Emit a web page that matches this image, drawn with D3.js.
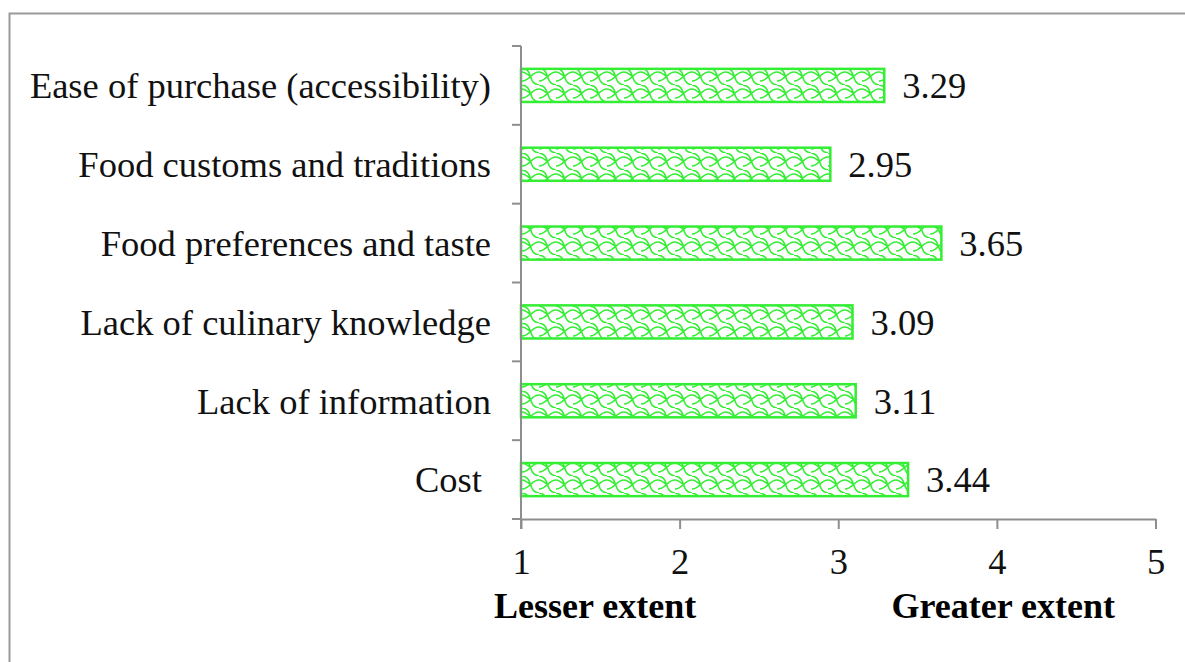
<!DOCTYPE html>
<html><head><meta charset="utf-8">
<script src="https://cdn.jsdelivr.net/npm/d3@7"></script>
<style>html,body{margin:0;padding:0;background:#fff;overflow:hidden}</style>
</head><body>
<svg id="c" width="1185" height="662"></svg>
<script>
const categories = ["Ease of purchase (accessibility)", "Food customs and traditions", "Food preferences and taste", "Lack of culinary knowledge", "Lack of information", "Cost "];
const values = [3.29, 2.95, 3.65, 3.09, 3.11, 3.44];
const valueLabels = ["3.29", "2.95", "3.65", "3.09", "3.11", "3.44"];
const xTicks = [1, 2, 3, 4, 5];
const endLabels = ["Lesser extent", "Greater extent"];

const svg = d3.select("#c");
const font = "'Liberation Serif','Times New Roman',serif";
const green = "#33ee33";
const axisCol = "#8e8e8e";
const fs = 36.5;

// outer frame
svg.append("rect").attr("x", 9.5).attr("y", 13.5).attr("width", 1300).attr("height", 800)
  .attr("fill", "none").attr("stroke", "#9a9a9a").attr("stroke-width", 2);

// pattern
const defs = svg.append("defs");
const pat = defs.append("pattern").attr("id", "shingle").attr("patternUnits", "userSpaceOnUse")
  .attr("width", 17).attr("height", 17).attr("x", 522).attr("y", 0);
pat.append("rect").attr("width", 17).attr("height", 17).attr("fill", "#fff");
pat.append("path")
  .attr("d", "M0,0 C6,1 7,4 8.5,8.5 C10,13 11,16 17,17 M8.5,8.5 C11,6 14,4 17,4 M-8.5,8.5 C-6,6 -3,4 0,4 M0,4 C3,4 5,6 8.5,8.5 M0,13 C3,13 6,11 8.5,8.5")
  .attr("fill", "none").attr("stroke", green).attr("stroke-width", 1.6);

const x = d3.scaleLinear().domain([1, 5]).range([521, 1155.5]);
const y = d3.scaleBand().domain(categories).range([46, 519]).paddingInner(0.58).paddingOuter(0.29);

// bars
svg.append("g").selectAll("rect").data(categories).join("rect")
  .attr("x", x(1)).attr("y", d => y(d))
  .attr("width", (d, i) => x(values[i]) - x(1))
  .attr("height", y.bandwidth())
  .attr("fill", "url(#shingle)").attr("stroke", green).attr("stroke-width", 2.5);

// x axis
const xa = svg.append("g").attr("transform", "translate(0,519)")
  .call(d3.axisBottom(x).tickValues(xTicks).tickSize(10).tickPadding(19).tickSizeOuter(0).tickFormat(d3.format("d")));
xa.select(".domain").attr("stroke", axisCol).attr("stroke-width", 2);
xa.selectAll(".tick line").attr("stroke", axisCol).attr("stroke-width", 2);
xa.selectAll(".tick text").attr("font-family", font).attr("font-size", fs).attr("fill", "#111");
xa.attr("font-family", null).attr("font-size", null);

// y axis line and ticks
const step = y.step();
const bounds = categories.map(d => y(d) - step * y.paddingInner() / 2).concat([y.range()[1]]);
const ya = svg.append("g");
ya.append("line").attr("x1", x(1)).attr("x2", x(1)).attr("y1", y.range()[0]).attr("y2", y.range()[1] + 10)
  .attr("stroke", axisCol).attr("stroke-width", 2);
ya.selectAll("line.t").data(bounds).join("line").attr("class", "t")
  .attr("x1", x(1) - 9).attr("x2", x(1)).attr("y1", d => d).attr("y2", d => d)
  .attr("stroke", axisCol).attr("stroke-width", 2);

// category labels
svg.append("g").selectAll("text").data(categories).join("text")
  .attr("x", 491).attr("y", d => y(d) + y.bandwidth() / 2).attr("dy", "0.35em")
  .attr("text-anchor", "end").attr("font-family", font).attr("font-size", fs).attr("fill", "#111")
  .style("white-space", "pre")
  .text(d => d);

// value labels
svg.append("g").selectAll("text").data(categories).join("text")
  .attr("x", (d, i) => x(values[i]) + 18).attr("y", d => y(d) + y.bandwidth() / 2).attr("dy", "0.35em")
  .attr("font-family", font).attr("font-size", fs).attr("fill", "#111")
  .text((d, i) => valueLabels[i]);

// end labels
svg.append("text").attr("x", 494).attr("y", 618).attr("font-family", font).attr("font-size", 36)
  .attr("font-weight", "bold").attr("fill", "#000").text(endLabels[0]);
svg.append("text").attr("x", 1115).attr("y", 618).attr("text-anchor", "end").attr("font-family", font).attr("font-size", 36)
  .attr("font-weight", "bold").attr("fill", "#000").text(endLabels[1]);
</script>
</body></html>
